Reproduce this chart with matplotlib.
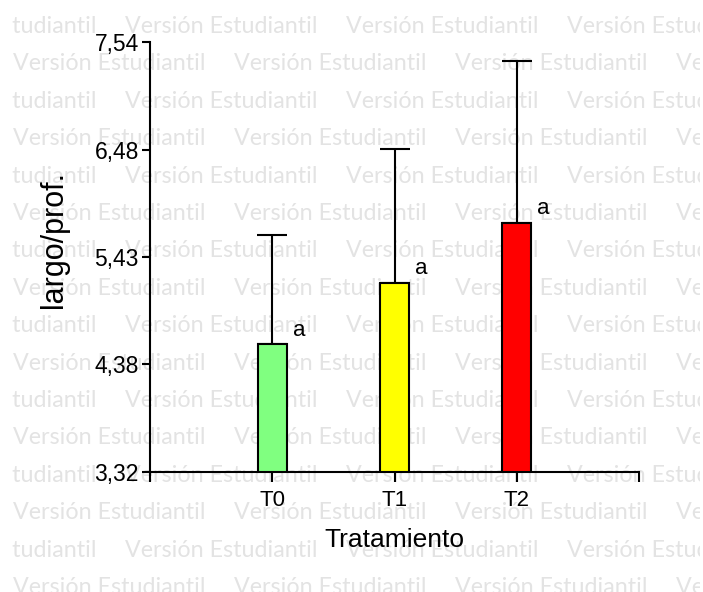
import matplotlib
matplotlib.use('Agg')
import matplotlib.pyplot as plt
from matplotlib.transforms import Bbox

# data
treatments = ['T0', 'T1', 'T2']
means = [4.576, 5.178, 5.767]
errors = [1.07, 1.31, 1.59]
letters = ['a', 'a', 'a']
bar_colors = ['#80ff80', '#ffff00', '#ff0000']
y_ticks = [3.32, 4.38, 5.43, 6.48, 7.54]
y_tick_labels = ['3,32', '4,38', '5,43', '6,48', '7,54']
watermark = 'Versión Estudiantil'

W, H = 703, 592
fig = plt.figure(figsize=(W / 100, H / 100), dpi=100, facecolor='w')
renderer = fig.canvas.get_renderer()

# size the watermark so one phrase is ~192 px wide
probe = fig.text(0, 0, watermark, fontsize=20, family='Lato')
wm_size = 20 * 192 / probe.get_window_extent(renderer).width
probe.remove()

# background watermark rows
clip = Bbox.from_extents(12, 0, 700, H)
for row in range(16):
    y_px = 33 + 37.4 * row
    x_px = 13 if row % 2 == 1 else 125 - 221
    while x_px < W:
        t = fig.text(x_px / W, 1 - y_px / H, watermark, ha='left', va='baseline',
                     fontsize=wm_size, color='#e3e3e3', family='Lato', zorder=-10)
        t.set_clip_box(clip)
        t.set_clip_on(True)
        x_px += 221

ax = fig.add_axes([150 / W, 1 - 472 / H, 489 / W, 430 / H])
ax.patch.set_visible(False)

x = list(range(len(treatments)))
ax.bar(x, means, width=0.237, bottom=0, color=bar_colors, edgecolor='black',
       linewidth=1.5, zorder=2)
ax.errorbar(x, means, yerr=[[0] * len(errors), errors], fmt='none', ecolor='black',
            elinewidth=1.5, capsize=11, capthick=1.5, zorder=1)

for xi, m, lab in zip(x, means, letters):
    ax.annotate(lab, (xi + 0.22, m), xytext=(0, 10), textcoords='offset points',
                ha='center', va='center', fontsize=16, family='Liberation Sans')

ax.set_xlim(-1, 3)
ax.set_ylim(3.32, 7.54)
ax.set_yticks(y_ticks)
ax.set_yticklabels(y_tick_labels)
ax.set_xticks([-1, 0, 1, 2, 3])
ax.set_xticklabels([''] + treatments + [''])

for side in ['top', 'right']:
    ax.spines[side].set_visible(False)
for side in ['left', 'bottom']:
    ax.spines[side].set_linewidth(1.5)

ax.tick_params(axis='y', length=6, width=1.5, pad=2, labelsize=16.5)
ax.tick_params(axis='x', length=7, width=1.5, pad=6, labelsize=16)
for lab in ax.get_xticklabels() + ax.get_yticklabels():
    lab.set_family('Liberation Sans')

ax.set_xlabel('Tratamiento', fontsize=19, family='Liberation Sans')
ax.set_ylabel('largo/prof.', fontsize=22, family='Liberation Sans')
ax.xaxis.set_label_coords(0.5, -0.13)
ax.yaxis.set_label_coords(-0.165, 0.54)

fig.savefig('out.png', dpi=100)
